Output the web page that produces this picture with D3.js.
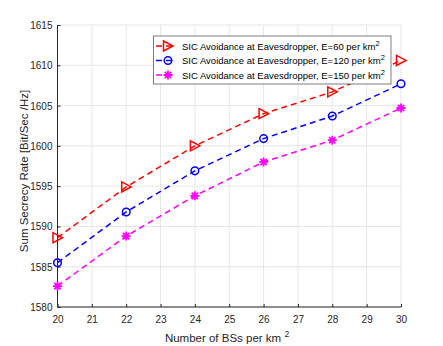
<!DOCTYPE html>
<html>
<head>
<meta charset="utf-8">
<script src="https://cdn.jsdelivr.net/npm/d3@7"></script>
<style>
  body { margin: 0; background: #fff; }
  svg { display: block; }
  text { font-family: "Liberation Sans", Arial, sans-serif; }
</style>
</head>
<body>
<svg></svg>
<script>
const xTicks = [20, 21, 22, 23, 24, 25, 26, 27, 28, 29, 30];
const yTicks = [1580, 1585, 1590, 1595, 1600, 1605, 1610, 1615];
const bsDensity = [20, 22, 24, 26, 28, 30];
const rateE60 = [1588.6, 1594.9, 1600.0, 1604.0, 1606.7, 1610.6];
const rateE120 = [1585.5, 1591.8, 1596.9, 1600.9, 1603.7, 1607.7];
const rateE150 = [1582.6, 1588.8, 1593.8, 1598.0, 1600.7, 1604.7];
const seriesNames = ['SIC Avoidance at Eavesdropper, E=60 per km', 'SIC Avoidance at Eavesdropper, E=120 per km', 'SIC Avoidance at Eavesdropper, E=150 per km'];

const series = [
	{ name: seriesNames[0], values: rateE60, color: '#ff0000', marker: 'tri' },
	{ name: seriesNames[1], values: rateE120, color: '#0000ff', marker: 'circle' },
	{ name: seriesNames[2], values: rateE150, color: '#ff00ff', marker: 'star' }
];

const svg = d3.select('svg')
	.attr('width', 443)
	.attr('height', 346);

const margin = { top: 25, right: 42, bottom: 39, left: 57.5 },
	innerWidth = 443 - margin.left - margin.right,
	innerHeight = 346 - margin.top - margin.bottom,
	axisColor = '#262626';

const xScale = d3.scaleLinear().domain([20, 30]).range([0, innerWidth]);
const yScale = d3.scaleLinear().domain([1580, 1615]).range([innerHeight, 0]);

const g = svg.append('g')
	.attr('transform', `translate(${margin.left}, ${margin.top})`);

// grid
g.append('g').selectAll('line')
	.data(xTicks)
	.enter().append('line')
		.attr('x1', d => xScale(d)).attr('x2', d => xScale(d))
		.attr('y1', 0).attr('y2', innerHeight)
		.attr('stroke', '#e6e6e6');
g.append('g').selectAll('line')
	.data(yTicks)
	.enter().append('line')
		.attr('y1', d => yScale(d)).attr('y2', d => yScale(d))
		.attr('x1', 0).attr('x2', innerWidth)
		.attr('stroke', '#e6e6e6');

const xAxis = d3.axisBottom(xScale)
	.tickValues(xTicks)
	.tickSize(-3)
	.tickPadding(7)
	.tickFormat(d3.format('d'));

const yAxis = d3.axisLeft(yScale)
	.tickValues(yTicks)
	.tickSize(-3)
	.tickPadding(5)
	.tickFormat(d3.format('d'));

const xAxisG = g.append('g').call(xAxis)
	.attr('transform', `translate(0, ${innerHeight})`);
const yAxisG = g.append('g').call(yAxis);

[xAxisG, yAxisG].forEach(a => {
	a.attr('font-family', null).attr('font-size', null);
	a.select('.domain').attr('stroke', axisColor).attr('stroke-width', 1);
	a.selectAll('.tick line').attr('stroke', axisColor);
	a.selectAll('.tick text').attr('fill', axisColor).attr('dy', null).style('font-size', '10px');
});
xAxisG.select('.domain').attr('d', `M0,0H${innerWidth}`);
yAxisG.select('.domain').attr('d', `M0,0V${innerHeight}`);
xAxisG.selectAll('.tick text').attr('y', 16);
yAxisG.selectAll('.tick text').attr('y', 3.5);

// axis labels
const xLabel = svg.append('text')
	.attr('x', 227)
	.attr('y', 342)
	.attr('text-anchor', 'middle')
	.attr('fill', axisColor)
	.style('font-size', '11.5px')
	.text('Number of BSs per km ');
xLabel.append('tspan').attr('dy', -5).style('font-size', '8.5px').text('2');

svg.append('text')
	.attr('transform', `translate(28, 171) rotate(-90)`)
	.attr('text-anchor', 'middle')
	.attr('fill', axisColor)
	.style('font-size', '11.5px')
	.text('Sum Secrecy Rate [Bit/Sec /Hz]');

const markerPath = (type) => {
	if (type === 'tri') return 'M-4.5,-5L5,0L-4.5,5Z';
	if (type === 'star') return 'M-4.5,0H4.5M0,-4.5V4.5M-3.2,-3.2L3.2,3.2M-3.2,3.2L3.2,-3.2';
	return null;
};

const drawMarker = (sel, s) => {
	if (s.marker === 'circle') {
		sel.append('circle').attr('r', 3.8)
			.attr('fill', 'none').attr('stroke', s.color).attr('stroke-width', 1.5);
	} else {
		sel.append('path').attr('d', markerPath(s.marker))
			.attr('fill', 'none').attr('stroke', s.color).attr('stroke-width', s.marker === 'star' ? 1.8 : 1.5);
	}
};

const line = d3.line()
	.x((d, i) => xScale(bsDensity[i]))
	.y(d => yScale(d));

series.forEach(s => {
	g.append('path')
		.datum(s.values)
		.attr('d', line)
		.attr('fill', 'none')
		.attr('stroke', s.color)
		.attr('stroke-width', 1.5)
		.attr('stroke-dasharray', '6,4');
	g.selectAll(null)
		.data(s.values)
		.enter().append('g')
			.attr('transform', (d, i) => `translate(${xScale(bsDensity[i])}, ${yScale(d)})`)
			.each(function () { drawMarker(d3.select(this), s); });
});

// legend
const legend = svg.append('g').attr('transform', 'translate(153.5, 36)');
legend.append('rect')
	.attr('width', 237.5).attr('height', 48)
	.attr('fill', '#fff').attr('stroke', axisColor).attr('stroke-width', 0.6);

series.forEach((s, i) => {
	const row = legend.append('g').attr('transform', `translate(0, ${10 + i * 14.5})`);
	row.append('line')
		.attr('x1', 2.5).attr('x2', 22)
		.attr('stroke', s.color).attr('stroke-width', 1.5)
		.attr('stroke-dasharray', '6,4');
	const m = row.append('g').attr('transform', 'translate(14.5, 0)');
	drawMarker(m, s);
	const t = row.append('text')
		.attr('x', 28.5).attr('y', 3.5)
		.attr('fill', '#000')
		.style('font-size', '9.5px')
		.text(s.name);
	t.append('tspan').attr('dy', -4).style('font-size', '7.5px').text('2');
});
</script>
</body>
</html>
